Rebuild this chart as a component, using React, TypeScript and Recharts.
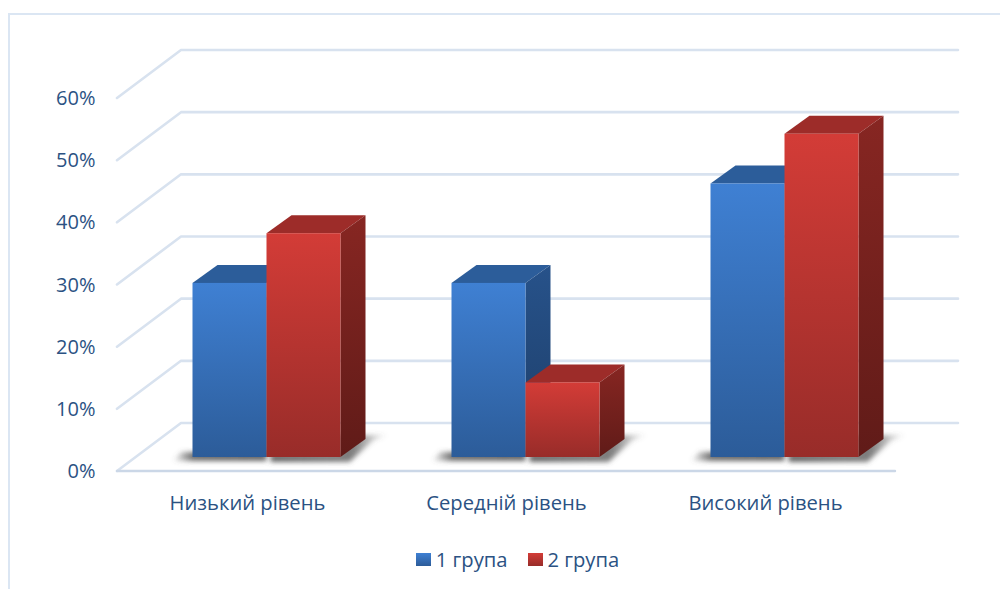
import React from "react";
import { BarChart, Bar, XAxis, YAxis, CartesianGrid, Legend } from "recharts";

const levels = ["Низький рівень", "Середній рівень", "Високий рівень"];
const group1 = [28, 28, 44];
const group2 = [36, 12, 52];
const yTicks = [0, 10, 20, 30, 40, 50, 60];
const seriesNames = ["1 група", "2 група"];

const rows = levels.map((level, i) => ({ level, group1: group1[i], group2: group2[i] }));

const FONT = "'Open Sans', sans-serif";
const TEXT = "#2b5283";
const GRID = "#d8e2ef";
// Oblique projection of the box depth and of the chart floor
const BAR_DX = 25;
const BAR_DY = 18;
const FLOOR_BACK_DX = 44.5;
const FLOOR_FRONT_DX = -19.5;
const FLOOR_BACK_DY = -34;
const FLOOR_FRONT_DY = 14;

type Tone = { front: string; top: string; side: string };
const BLUE: Tone = { front: "url(#blueFront)", top: "#2c5d9a", side: "url(#blueSide)" };
const RED: Tone = { front: "url(#redFront)", top: "#9d2c29", side: "url(#redSide)" };

function Box3D(props: any, tone: Tone, shadowSide: "left" | "right") {
  const { x, y, width, height } = props;
  const r = x + width;
  const b = y + height;
  const shadow =
    shadowSide === "left"
      ? `${x - 20},${b + 4} ${r},${b + 4} ${r},${b - 5} ${x - 11},${b - 5}`
      : `${x + 4},${b + 5} ${r + 9},${b + 5} ${r + BAR_DX + 8},${b - BAR_DY + 1} ${r + BAR_DX + 22},${b - BAR_DY - 4} ${r},${b - BAR_DY - 4} ${r},${b - 3} ${x + 4},${b - 3}`;
  return (
    <g>
      <polygon
        points={shadow}
        fill={shadowSide === "left" ? "url(#shadowFadeLeft)" : "url(#shadowFadeRight)"}
        filter="url(#shadowBlur)"
      />
      <polygon
        points={`${x},${y} ${x + BAR_DX},${y - BAR_DY} ${r + BAR_DX},${y - BAR_DY} ${r},${y}`}
        fill={tone.top}
      />
      <polygon
        points={`${r},${y} ${r + BAR_DX},${y - BAR_DY} ${r + BAR_DX},${b - BAR_DY} ${r},${b}`}
        fill={tone.side}
      />
      <rect x={x} y={y} width={width} height={height} fill={tone.front} />
    </g>
  );
}

const floorLine = { y: 449 };

// Each gridline runs along the left wall and then along the back wall
function WallLine(props: any) {
  const { x1, x2, y1 } = props;
  const fx = x1 + FLOOR_FRONT_DX;
  const bx = x1 + FLOOR_BACK_DX;
  const fy = y1 + FLOOR_FRONT_DY;
  const by = y1 + FLOOR_BACK_DY;
  return (
    <g>
      <polyline
        points={`${fx},${fy} ${bx},${by} ${x2 + FLOOR_BACK_DX},${by}`}
        fill="none"
        stroke={GRID}
        strokeWidth={2.6}
        strokeLinecap="round"
        strokeLinejoin="round"
      />
      {y1 === floorLine.y && (
        <line
          x1={fx}
          y1={fy}
          x2={x2 + FLOOR_FRONT_DX + 1}
          y2={fy}
          stroke="#cbd7e7"
          strokeWidth={2.4}
          strokeLinecap="round"
        />
      )}
    </g>
  );
}

function PercentTick({ x, y, payload }: any) {
  return (
    <text x={x} y={y + FLOOR_FRONT_DY} dx={-33} dy={7} textAnchor="end" fontFamily={FONT} fontSize={20} fill={TEXT}>
      {payload.value}%
    </text>
  );
}

function LevelTick({ x, y, payload }: any) {
  return (
    <text x={x} y={y} dx={-18.5} dy={45} textAnchor="middle" fontFamily={FONT} fontSize={20.2} fill={TEXT}>
      {payload.value}
    </text>
  );
}

function LegendRow({ payload }: any) {
  return (
    <div style={{ display: "flex", justifyContent: "center", paddingRight: 14, fontFamily: FONT, fontSize: 20.2, color: TEXT, lineHeight: "24px" }}>
      {(payload || []).map((entry: any, i: number) => (
        <span key={entry.value} style={{ display: "flex", alignItems: "center", marginLeft: i ? 20 : 0 }}>
          <svg width={15} height={13} style={{ marginRight: 5 }}>
            <rect width={15} height={13} fill={entry.color} />
          </svg>
          {entry.value}
        </span>
      ))}
    </div>
  );
}

export default function App() {
  return (
    <div style={{ position: "relative", width: 1000, height: 581, background: "#fff" }}>
      <div
        style={{
          position: "absolute",
          left: 0,
          top: 5,
          width: 1000,
          height: 576,
          borderTop: "2px solid #dbe6f3",
          borderLeft: "2px solid #dbe6f3",
          boxSizing: "border-box",
        }}
      />
      <BarChart
        width={1000}
        height={581}
        data={rows}
        barSize={74}
        barGap={0}
        margin={{ top: 76, right: 94.5, bottom: 107, left: 127.5 }}
        style={{ position: "absolute", left: 0, top: 0 }}
      >
        <defs>
          <linearGradient id="blueFront" x1="0" y1="0" x2="0" y2="1">
            <stop offset="0" stopColor="#3f80d3" />
            <stop offset="1" stopColor="#2c5c99" />
          </linearGradient>
          <linearGradient id="redFront" x1="0" y1="0" x2="0" y2="1">
            <stop offset="0" stopColor="#d33c37" />
            <stop offset="1" stopColor="#982c29" />
          </linearGradient>
          <linearGradient id="blueSide" x1="0" y1="0" x2="0" y2="1">
            <stop offset="0" stopColor="#27528a" />
            <stop offset="1" stopColor="#1d3e69" />
          </linearGradient>
          <linearGradient id="redSide" x1="0" y1="0" x2="0" y2="1">
            <stop offset="0" stopColor="#872622" />
            <stop offset="1" stopColor="#601b18" />
          </linearGradient>
          <linearGradient id="shadowFadeRight" x1="0" y1="0" x2="1" y2="0">
            <stop offset="0" stopColor="#555" stopOpacity={0.9} />
            <stop offset="0.7" stopColor="#555" stopOpacity={0.75} />
            <stop offset="1" stopColor="#555" stopOpacity={0.02} />
          </linearGradient>
          <linearGradient id="shadowFadeLeft" x1="1" y1="0" x2="0" y2="0">
            <stop offset="0" stopColor="#555" stopOpacity={0.9} />
            <stop offset="0.78" stopColor="#555" stopOpacity={0.85} />
            <stop offset="1" stopColor="#555" stopOpacity={0} />
          </linearGradient>
          <filter id="shadowBlur" x="-30%" y="-60%" width="160%" height="220%">
            <feGaussianBlur stdDeviation="2.4" />
          </filter>
        </defs>
        <CartesianGrid vertical={false} horizontal={WallLine as any} />
        <XAxis dataKey="level" height={1} axisLine={false} tickLine={false} tick={LevelTick as any} interval={0} />
        <YAxis
          width={1}
          domain={[0, 60]}
          ticks={yTicks}
          axisLine={false}
          tickLine={false}
          tick={PercentTick as any}
          interval={0}
        />
        <Legend content={LegendRow as any} verticalAlign="bottom" wrapperStyle={{ bottom: 18 }} />
        <Bar
          dataKey="group1"
          name={seriesNames[0]}
          fill="url(#blueFront)"
          isAnimationActive={false}
          shape={(p: any) => Box3D(p, BLUE, "left")}
        />
        <Bar
          dataKey="group2"
          name={seriesNames[1]}
          fill="url(#redFront)"
          isAnimationActive={false}
          shape={(p: any) => Box3D(p, RED, "right")}
        />
      </BarChart>
    </div>
  );
}
